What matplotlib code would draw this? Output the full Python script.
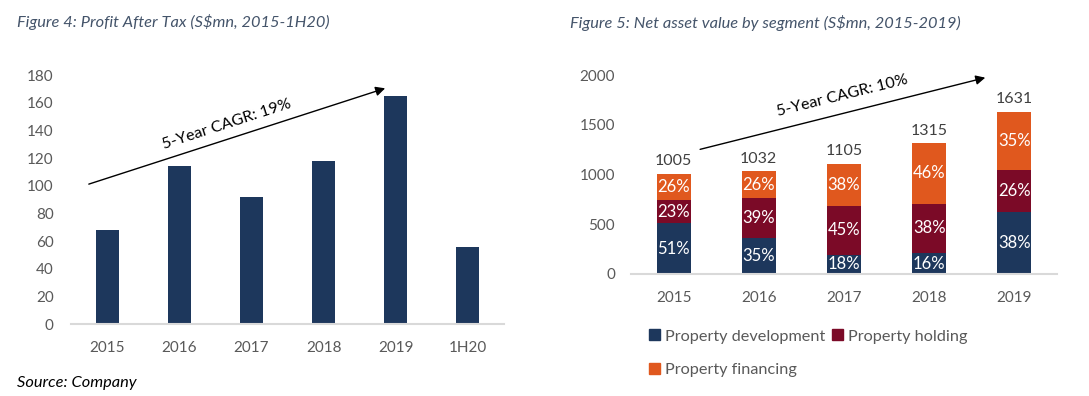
import numpy as np
import matplotlib.pyplot as plt
from matplotlib.patches import Patch

plt.rcParams['font.family'] = ['Lato', 'DejaVu Sans']

# Figure 4 data: profit after tax (S$mn)
pat_years = ["2015", "2016", "2017", "2018", "2019", "1H20"]
pat_values = [68, 114, 92, 118, 165, 56]

# Figure 5 data: net asset value by segment (S$mn)
nav_years = ["2015", "2016", "2017", "2018", "2019"]
nav_dev = [510, 362, 195, 208, 622]
nav_hold = [230, 400, 492, 500, 425]
nav_fin = [265, 270, 418, 607, 584]
nav_total = [1005, 1032, 1105, 1315, 1631]
pct_dev = ["51%", "35%", "18%", "16%", "38%"]
pct_hold = ["23%", "39%", "45%", "38%", "26%"]
pct_fin = ["26%", "26%", "38%", "46%", "35%"]

navy = "#1d375c"
maroon = "#7b0a27"
orange = "#e0581e"
tick_col = "#595959"
title_col = "#44546a"
axis_col = "#d9d9d9"

fig = plt.figure(figsize=(10.89, 3.96), dpi=100)

def style_axis(ax, ypad):
    for s in ["top", "right", "left"]:
        ax.spines[s].set_visible(False)
    ax.spines["bottom"].set_color(axis_col)
    ax.spines["bottom"].set_linewidth(1.5)
    ax.tick_params(axis="both", length=0, labelsize=11, colors=tick_col)
    ax.tick_params(axis="x", pad=12)
    ax.tick_params(axis="y", pad=ypad)

# ---- left panel
ax1 = fig.add_axes([0.0652, 0.1818, 0.3976, 0.6288])
x1 = np.arange(len(pat_years))
ax1.bar(x1, pat_values, width=0.32, color=navy)
ax1.set_xlim(-0.5, len(pat_years) - 0.5)
ax1.set_ylim(0, 180)
ax1.set_yticks(np.arange(0, 181, 20))
ax1.set_xticks(x1)
ax1.set_xticklabels(pat_years)
style_axis(ax1, 12.5)
ax1.annotate("", xy=(3.89, 171), xytext=(-0.29, 100.5),
             arrowprops=dict(arrowstyle="-|>", lw=1, color="black", mutation_scale=14),
             annotation_clip=False)
ax1.text(1.66, 144.5, "5-Year CAGR: 19%", rotation=18, ha="center", va="center",
         fontsize=11.5, color="black")

# ---- right panel
ax2 = fig.add_axes([0.5794, 0.3081, 0.3912, 0.5025])
x2 = np.arange(len(nav_years))
w = 0.4
b1 = ax2.bar(x2, nav_dev, width=w, color=navy)
b2 = ax2.bar(x2, nav_hold, width=w, bottom=nav_dev, color=maroon)
bottom3 = np.array(nav_dev) + np.array(nav_hold)
b3 = ax2.bar(x2, nav_fin, width=w, bottom=bottom3, color=orange)
ax2.bar_label(b1, labels=pct_dev, label_type="center", color="white", fontsize=12)
ax2.bar_label(b2, labels=pct_hold, label_type="center", color="white", fontsize=12)
ax2.bar_label(b3, labels=pct_fin, label_type="center", color="white", fontsize=12)
for xi, t in zip(x2, nav_total):
    ax2.annotate(str(t), (xi, t), xytext=(0, 4), textcoords="offset points",
                 ha="center", va="bottom", fontsize=11.5, color="#404040")
ax2.set_xlim(-0.5, len(nav_years) - 0.5)
ax2.set_ylim(0, 2000)
ax2.set_yticks(np.arange(0, 2001, 500))
ax2.set_xticks(x2)
ax2.set_xticklabels(nav_years)
style_axis(ax2, 11.5)
ax2.annotate("", xy=(3.69, 1980), xytext=(0.28, 1246),
             arrowprops=dict(arrowstyle="-|>", lw=1, color="black", mutation_scale=14),
             annotation_clip=False)
ax2.text(1.98, 1790, "5-Year CAGR: 10%", rotation=14, ha="center", va="center",
         fontsize=11.5, color="black")

handles = [Patch(color=navy, label="Property development"),
           Patch(color=orange, label="Property financing"),
           Patch(color=maroon, label="Property holding")]
fig.legend(handles=handles, ncol=2, loc="upper left", bbox_to_anchor=(0.596, 0.168),
           frameon=False, fontsize=11.7, labelcolor=tick_col, handlelength=0.65,
           handleheight=0.65, handletextpad=0.35, columnspacing=0.4, labelspacing=1.2,
           borderaxespad=0, borderpad=0)

# titles and source
fig.text(0.0156, 0.944, "Figure 4: Profit After Tax (S$mn, 2015-1H20)", style="italic",
         fontsize=11.8, color=title_col, va="center", ha="left")
fig.text(0.523, 0.943, "Figure 5: Net asset value by segment (S$mn, 2015-2019)", style="italic",
         fontsize=11.8, color=title_col, va="center", ha="left")
fig.text(0.0156, 0.033, "Source: Company", style="italic", fontsize=11.8, color="black",
         va="center", ha="left")

fig.savefig("out.png", dpi=100)
